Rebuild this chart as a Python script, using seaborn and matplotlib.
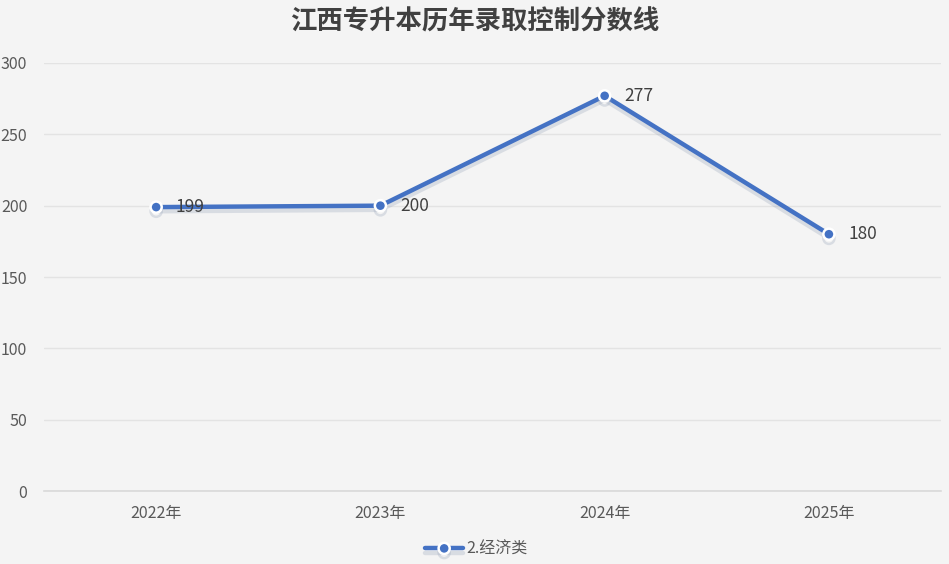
import numpy as np
import pandas as pd
import matplotlib
matplotlib.use("Agg")
import matplotlib.pyplot as plt
import matplotlib.patheffects as pe
import seaborn as sns

years = ["2022年", "2023年", "2024年", "2025年"]
scores = [199, 200, 277, 180]
series_name = "2.经济类"
title = "江西专升本历年录取控制分数线"

bg = "#f4f4f4"
blue = "#4472c4"
txt = "#595959"

sns.set_style("white")
plt.rcParams['font.family'] = ['Noto Sans CJK SC', 'DejaVu Sans']

df = pd.DataFrame({"year": years, "score": scores, "series": series_name})
df["pos"] = np.arange(len(years))

fig = plt.figure(figsize=(9.49, 5.64), dpi=100, facecolor=bg)
ax = fig.add_axes([0.0464, 0.1294, 0.9452, 0.7589])
ax.set_facecolor(bg)

sns.lineplot(data=df, x="pos", y="score", hue="series", palette=[blue],
             marker="o", markersize=8, markeredgecolor="white", markeredgewidth=1.8,
             linewidth=3.2, ax=ax,
             path_effects=[pe.SimpleLineShadow(offset=(0, -3), shadow_color="#9aa6bb", alpha=0.3),
                           pe.Normal()])

for x, y in zip(df["pos"], df["score"]):
    ax.annotate(str(y), (x, y), xytext=(14, 0), textcoords="offset points",
                ha="left", va="center", fontsize=12.5, color="#404040")

ax.set_xlim(-0.5, len(years) - 0.5)
ax.set_ylim(0, 300)
ax.set_yticks(range(0, 301, 50))
ax.set_xticks(df["pos"])
ax.set_xticklabels(years)
ax.set_xticks(np.arange(-0.5, len(years), 1), minor=True)
ax.tick_params(axis="x", which="major", length=0, pad=10, labelsize=11.5, labelcolor=txt)
ax.tick_params(axis="x", which="minor", length=6, width=1, color="#d9d9d9", direction="out")
ax.tick_params(axis="y", length=0, pad=12, labelsize=11.5, labelcolor=txt)
for lab in ax.get_yticklabels():
    lab.set_horizontalalignment("right")
ax.grid(axis="y", color="#e3e3e3", linewidth=1)
ax.set_axisbelow(True)
for s in ["left", "right", "top"]:
    ax.spines[s].set_visible(False)
ax.spines["bottom"].set_color("#d9d9d9")
ax.spines["bottom"].set_linewidth(1.2)
ax.set_xlabel("")
ax.set_ylabel("")

fig.suptitle(title, x=0.5, y=0.985, fontsize=19, fontweight="bold", color="#404040")

leg = ax.legend(loc="lower center", bbox_to_anchor=(0.482, -0.19), frameon=False,
                fontsize=11.5, handlelength=2.4, handletextpad=0.2)
for t in leg.get_texts():
    t.set_color(txt)

fig.savefig("out.png", dpi=100, facecolor=bg)
